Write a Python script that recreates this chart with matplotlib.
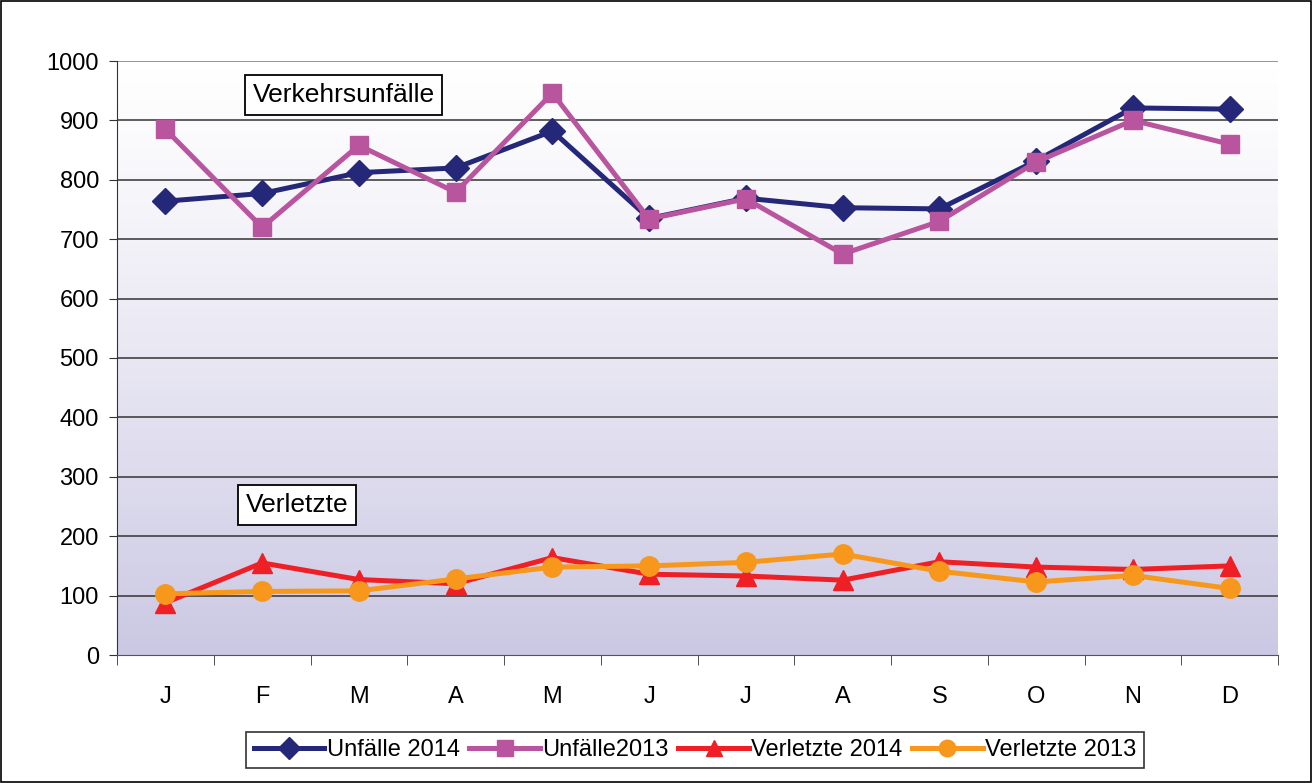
import numpy as np
import matplotlib
matplotlib.use("Agg")
import matplotlib.pyplot as plt
from matplotlib.colors import LinearSegmentedColormap
from matplotlib.patches import Rectangle

plt.rcParams['font.family'] = ['Liberation Sans', 'DejaVu Sans']

# DANE
monate = ["J", "F", "M", "A", "M", "J", "J", "A", "S", "O", "N", "D"]
unfaelle_2014 = [764, 777, 812, 820, 882, 735, 769, 753, 751, 832, 921, 919]
unfaelle_2013 = [885, 720, 858, 779, 946, 734, 768, 675, 730, 830, 900, 860]
verletzte_2014 = [88, 155, 127, 120, 164, 136, 133, 126, 157, 148, 144, 150]
verletzte_2013 = [103, 107, 108, 128, 148, 150, 156, 170, 141, 123, 134, 112]

fig = plt.figure(figsize=(13.12, 7.83), dpi=100)
ax = fig.add_axes([117/1312, 1 - 655/783, (1278-117)/1312, (655-61)/783])

x = np.arange(len(monate))

# Tło z gradientem (biały u góry, lawendowy u dołu)
cmap = LinearSegmentedColormap.from_list("bg", ["#ffffff", "#cbc8e3"])
grad = np.linspace(0, 1, 256).reshape(-1, 1) ** 1.2
ax.imshow(grad, extent=[-0.5, 11.5, 0, 1000], aspect="auto", cmap=cmap,
          vmin=0, vmax=1, zorder=0)

for v in range(100, 1001, 100):
    ax.axhline(v, color="#333333" if v < 1000 else "#777777", lw=1.1, zorder=1)

ax.plot(x, unfaelle_2014, color="#252878", lw=3.6, marker="D", ms=13,
        label="Unfälle 2014", zorder=3)
ax.plot(x, unfaelle_2013, color="#b8559e", lw=3.6, marker="s", ms=13,
        label="Unfälle2013", zorder=4)
ax.plot(x, verletzte_2014, color="#ee1f25", lw=3.6, marker="^", ms=14,
        label="Verletzte 2014", zorder=3)
ax.plot(x, verletzte_2013, color="#f7981d", lw=3.6, marker="o", ms=14,
        label="Verletzte 2013", zorder=4)

ax.set_xlim(-0.5, 11.5)
ax.set_ylim(0, 1000)
ax.set_yticks(range(0, 1001, 100))
ax.set_xticks(x)
ax.set_xticklabels(monate)
ax.set_xticks(np.arange(-0.5, 12, 1), minor=True)
ax.tick_params(axis="x", which="major", length=0, pad=22, labelsize=17)
ax.tick_params(axis="x", which="minor", length=7, direction="out", color="#333333")
ax.tick_params(axis="y", length=6, direction="out", labelsize=17, pad=7, color="#333333")

for s in ["top", "right"]:
    ax.spines[s].set_visible(False)
ax.spines["left"].set_color("#333333")
ax.spines["bottom"].set_color("#555555")

box = dict(boxstyle="square,pad=0.3", fc="white", ec="black", lw=1.3)
ax.text(0.9, 943, "Verkehrsunfälle", fontsize=19, va="center", ha="left", bbox=box, zorder=5)
ax.text(0.83, 252, "Verletzte", fontsize=19, va="center", ha="left", bbox=box, zorder=5)

leg = fig.legend(loc="center", bbox_to_anchor=(695/1312, 1 - 750/783), ncol=4,
                 fontsize=17, frameon=True, fancybox=False, edgecolor="black",
                 handlelength=3.0, handletextpad=0.1, columnspacing=0.4,
                 borderpad=0.3, markerscale=0.85)
leg.get_frame().set_linewidth(1.2)

fig.patches.append(Rectangle((0.001, 0.001), 0.998, 0.998, transform=fig.transFigure,
                             fill=False, ec="black", lw=1.2))

fig.savefig("out.png", dpi=100)
